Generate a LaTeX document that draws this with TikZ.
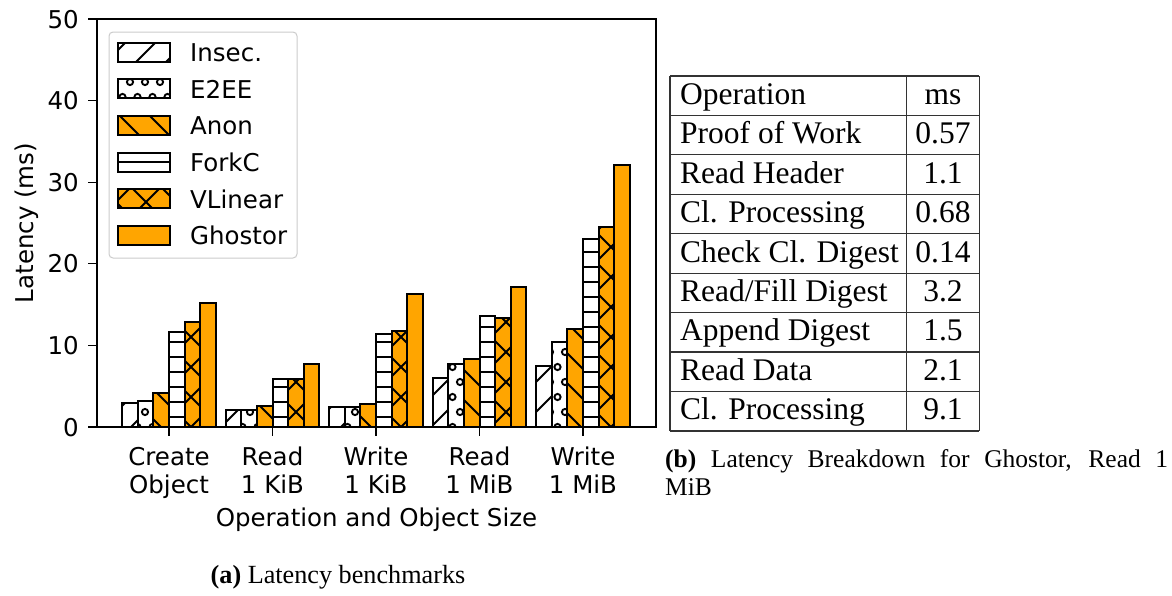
\documentclass[tikz,border=0pt]{standalone}
\usepackage{fontspec}
\setmainfont{Liberation Serif}
\newfontfamily\djv{DejaVu Sans}
\definecolor{barorange}{HTML}{FFA500}
\definecolor{legframe}{HTML}{CCCCCC}
\definecolor{tabline}{HTML}{333333}
\newcommand{\tickfont}{\djv\fontsize{24.5}{29}\selectfont}
\newcommand{\tabfont}{\fontsize{31.5}{36}\selectfont}
\newcommand{\capfont}{\fontsize{25.5}{28}\selectfont}
\newcommand{\capafont}{\fontsize{26.2}{28}\selectfont}
\tikzset{
  hatchline/.style={black, line width=1.8pt},
  baredge/.style={black, line width=2pt},
  spine/.style={black, line width=1.3pt},
  tickmark/.style={black, line width=1.3pt},
  tabrule/.style={tabline, line width=1.2pt},
  ticklabel/.style={font=\tickfont, inner sep=0pt},
  tabtext/.style={font=\tabfont, inner sep=0pt},
}
% all hatch macros use the numeric box \hxa \hya \hxb \hyb
% '/' hatch: x + y = 30k + 18
\newcommand{\hatchslash}{%
  \pgfmathtruncatemacro\kmin{floor((\hxa+\hya-18)/30)-1}%
  \pgfmathtruncatemacro\kmax{ceil((\hxb+\hyb-18)/30)+1}%
  \foreach \k in {\kmin,...,\kmax}{%
    \pgfmathsetmacro\hcval{30*\k+18}%
    \draw[hatchline] (\hcval-\hya+4,\hya-4) -- (\hcval-\hyb-4,\hyb+4);%
  }}
% '\' hatch: x - y = 30k + 4
\newcommand{\hatchback}{%
  \pgfmathtruncatemacro\kmin{floor((\hxa-\hyb-4)/30)-1}%
  \pgfmathtruncatemacro\kmax{ceil((\hxb-\hya-4)/30)+1}%
  \foreach \k in {\kmin,...,\kmax}{%
    \pgfmathsetmacro\hcval{30*\k+4}%
    \draw[hatchline] (\hcval+\hya-4,\hya-4) -- (\hcval+\hyb+4,\hyb+4);%
  }}
% '-' hatch: y = 15k + 12
\newcommand{\hatchhor}{%
  \pgfmathtruncatemacro\kmin{floor((\hya-12)/15)}%
  \pgfmathtruncatemacro\kmax{ceil((\hyb-12)/15)}%
  \foreach \k in {\kmin,...,\kmax}{%
    \pgfmathsetmacro\hcval{15*\k+12}%
    \draw[hatchline] (\hxa-3,\hcval) -- (\hxb+3,\hcval);%
  }}
% 'o' hatch
\newcommand{\hatchcirc}{%
  \pgfmathtruncatemacro\jmin{floor((\hya-7)/15)-1}%
  \pgfmathtruncatemacro\jmax{ceil((\hyb-7)/15)+1}%
  \pgfmathtruncatemacro\imin{floor(\hxa/15)-1}%
  \pgfmathtruncatemacro\imax{ceil(\hxb/15)+1}%
  \foreach \jj in {\jmin,...,\jmax}{%
    \pgfmathsetmacro\hoff{mod(\jj,2)==0 ? 2.5 : 10}%
    \foreach \ii in {\imin,...,\imax}{%
      \draw[black, line width=1.9pt] (15*\ii+\hoff,15*\jj+7) circle [radius=3.1pt];%
    }}}
% box with hatch: x1 y1 x2 y2 type
\newcommand{\hatchbox}[5]{%
  \pgfmathsetmacro\hxa{#1}%
  \pgfmathsetmacro\hya{#2}%
  \pgfmathsetmacro\hxb{#3}%
  \pgfmathsetmacro\hyb{#4}%
  \pgfmathtruncatemacro\htype{#5}%
  \begin{scope}
    \clip (\hxa,\hya) rectangle (\hxb,\hyb);
    \ifcase\htype\relax
      \fill[white] (\hxa,\hya) rectangle (\hxb,\hyb); \hatchslash
    \or
      \fill[white] (\hxa,\hya) rectangle (\hxb,\hyb); \hatchcirc
    \or
      \fill[barorange] (\hxa,\hya) rectangle (\hxb,\hyb); \hatchback
    \or
      \fill[white] (\hxa,\hya) rectangle (\hxb,\hyb); \hatchhor
    \or
      \fill[barorange] (\hxa,\hya) rectangle (\hxb,\hyb); \hatchslash \hatchback
    \or
      \fill[barorange] (\hxa,\hya) rectangle (\hxb,\hyb);
    \fi
  \end{scope}
  \draw[baredge] (\hxa,\hya) rectangle (\hxb,\hyb);
}
\begin{document}
\begin{tikzpicture}[x=1pt,y=-1pt]
\useasboundingbox (0,0) rectangle (1172,595);
\fill[white] (0,0) rectangle (1172,595);

% bars: group/index/value
\foreach \g/\n/\v in {0/0/3.0,0/1/3.2,0/2/4.2,0/3/11.7,0/4/12.9,0/5/15.2,
                      1/0/2.1,1/1/2.1,1/2/2.6,1/3/5.9,1/4/5.9,1/5/7.7,
                      2/0/2.4,2/1/2.4,2/2/2.8,2/3/11.4,2/4/11.8,2/5/16.3,
                      3/0/6.0,3/1/7.7,3/2/8.3,3/3/13.6,3/4/13.4,3/5/17.2,
                      4/0/7.5,4/1/10.4,4/2/12.0,4/3/23.1,4/4/24.5,4/5/32.1}{
  \hatchbox{169+103.5*\g-3*15.525+\n*15.525}{427-8.16*\v}{169+103.5*\g-2*15.525+\n*15.525}{427}{\n}
}

% axes
\draw[spine] (97,19) rectangle (656,427);
\foreach \t in {0,10,20,30,40,50}{
  \pgfmathsetmacro\ty{427-8.16*\t}
  \draw[tickmark] (88,\ty) -- (97,\ty);
  \node[ticklabel, anchor=base east] (ytick\t) at (79,\ty+9) {\t};
}
\foreach \g/\la/\lb in {0/Create/Object, 1/Read/1 KiB, 2/Write/1 KiB, 3/Read/1 MiB, 4/Write/1 MiB}{
  \pgfmathsetmacro\tx{169+103.5*\g}
  \draw[tickmark] (\tx,427) -- (\tx,436);
  \node[ticklabel, anchor=base] (xtickA\g) at (\tx,465) {\la};
  \node[ticklabel, anchor=base] (xtickB\g) at (\tx,493.5) {\lb};
}
\node[ticklabel, anchor=base] (xlabel) at (376.5,526.5) {Operation and Object Size};
\node[ticklabel, anchor=base, rotate=90] (ylabel) at (33,223) {Latency (ms)};

% legend
\draw[legframe, line width=1pt, fill=white, fill opacity=0.8, rounded corners=4pt] (109,32) rectangle (297,258);
\foreach \r/\n/\lab in {52/0/Insec., 88.5/1/E2EE, 125/2/Anon, 162/3/ForkC, 198.5/4/VLinear, 235/5/Ghostor}{
  \hatchbox{118}{\r-9.5}{170}{\r+9.5}{\n}
}
\foreach \r/\n/\lab in {52/0/Insec., 88.5/1/E2EE, 125/2/Anon, 162/3/ForkC, 198.5/4/VLinear, 235/5/Ghostor}{
  \node[ticklabel, anchor=base west] (leg\n) at (190,\r+9.5) {\lab};
}

% table
\foreach \k in {0,...,9}{
  \pgfmathsetmacro\ry{76+39.44*\k}
  \draw[tabrule] (670,\ry) -- (979.3,\ry);
}
\draw[tabrule] (670,76) -- (670,430.96);
\draw[tabrule] (906.7,76) -- (906.7,430.96);
\draw[tabrule] (979.3,76) -- (979.3,430.96);
\node[tabtext, anchor=base west] (r0a) at (680,104.3) {Operation};
\node[tabtext, anchor=base] (r0b) at (943,104.3) {ms};
\node[tabtext, anchor=base west] (r1a) at (680,143.74) {Proof of Work};
\node[tabtext, anchor=base] (r1b) at (943,143.74) {0.57};
\node[tabtext, anchor=base west] (r2a) at (680,183.18) {Read Header};
\node[tabtext, anchor=base] (r2b) at (943,183.18) {1.1};
\node[tabtext, anchor=base west] (r3a) at (680,222.62) {Cl. Processing};
\node[tabtext, anchor=base] (r3b) at (943,222.62) {0.68};
\node[tabtext, anchor=base west] (r4a) at (680,262.06) {Check Cl. Digest};
\node[tabtext, anchor=base] (r4b) at (943,262.06) {0.14};
\node[tabtext, anchor=base west] (r5a) at (680,301.5) {Read/Fill Digest};
\node[tabtext, anchor=base] (r5b) at (943,301.5) {3.2};
\node[tabtext, anchor=base west] (r6a) at (680,340.94) {Append Digest};
\node[tabtext, anchor=base] (r6b) at (943,340.94) {1.5};
\node[tabtext, anchor=base west] (r7a) at (680,380.38) {Read Data};
\node[tabtext, anchor=base] (r7b) at (943,380.38) {2.1};
\node[tabtext, anchor=base west] (r8a) at (680,419.82) {Cl. Processing};
\node[tabtext, anchor=base] (r8b) at (943,419.82) {9.1};

% captions
\node[font=\capafont, inner sep=0pt, anchor=base] (capa) at (338,583) {\textbf{(a)} Latency benchmarks};
\node[font=\capfont, inner sep=0pt, anchor=base west] (capb1) at (665,467) {\makebox[503pt][s]{\textbf{(b)} Latency Breakdown for Ghostor, Read 1}};
\node[font=\capfont, inner sep=0pt, anchor=base west] (capb2) at (665,495) {MiB};
\end{tikzpicture}
\end{document}
